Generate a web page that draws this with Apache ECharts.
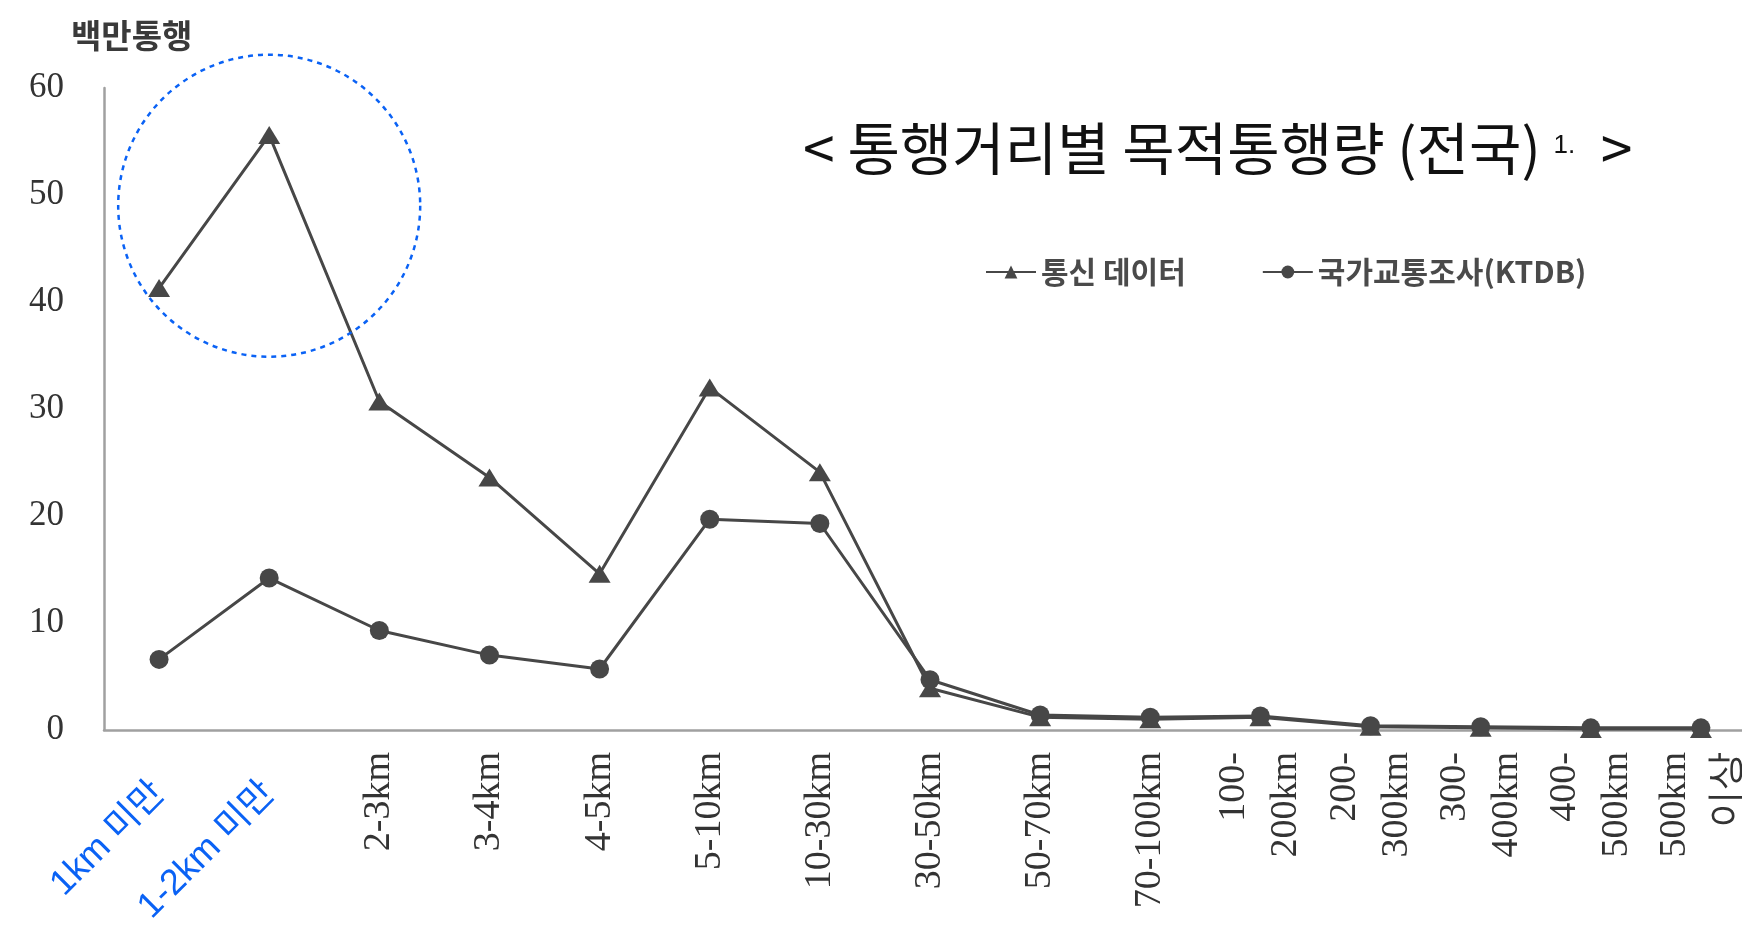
<!DOCTYPE html>
<html>
<head>
<meta charset="utf-8">
<script src="https://cdn.jsdelivr.net/npm/echarts@6/dist/echarts.min.js"></script>
<style>
html,body{margin:0;padding:0;background:#ffffff;overflow:hidden;}
#c{width:1762px;height:938px;}
</style>
</head>
<body>
<div id="c"></div>
<script>
// ---- data ----
const categories = ['1km 미만','1-2km 미만','2-3km','3-4km','4-5km','5-10km','10-30km','30-50km','50-70km','70-100km','100-\n200km','200-\n300km','300-\n400km','400-\n500km','500km\n이상'];
const telecomData = [41.3, 55.6, 30.7, 23.6, 14.6, 32.0, 24.1, 3.9, 1.2, 1.0, 1.2, 0.3, 0.2, 0.1, 0.1];
const ktdbData    = [6.6, 14.2, 9.3, 7.0, 5.7, 19.7, 19.3, 4.7, 1.4, 1.2, 1.3, 0.4, 0.3, 0.2, 0.2];
const yTicks = [0, 10, 20, 30, 40, 50, 60];
const seriesNames = ['통신 데이터', '국가교통조사(KTDB)'];
const titleText = '< 통행거리별 목적통행량 (전국)';
const titleSup = '1.';
const titleEnd = '>';
const yName = '백만통행';
const highlightCount = 2;          // first categories annotated in blue
const circleAnchor = [1, 49];      // annotation circle centre (category index, value)

// ---- chart ----
const chart = echarts.init(document.getElementById('c'), null, {renderer: 'canvas'});
const GRAY = '#474747';
const AXIS = '#a0a0a0';
const BLUE = '#0a62f5';

const option = {
  animation: false,
  backgroundColor: '#ffffff',
  title: [
    {
      text: '{m|' + titleText + ' }{s|' + titleSup + '}{m|  ' + titleEnd + '}',
      left: 798, top: 110,
      textStyle: {
        fontWeight: 'normal',
        rich: {
          m: {fontSize: 57, fontWeight: 'normal', fontFamily: 'Noto Sans CJK KR', color: '#111111', lineHeight: 66},
          s: {fontSize: 26, fontWeight: 'normal', fontFamily: 'Liberation Sans', color: '#111111', verticalAlign: 'top', lineHeight: 26, padding: [18, 0, 0, 0]}
        }
      }
    },
    {
      text: yName,
      left: 66, top: 14,
      textStyle: {fontSize: 33, fontWeight: 'bold', color: '#3a3a3a', fontFamily: 'Noto Sans CJK KR'}
    }
  ],
  legend: {
    data: seriesNames,
    left: 980, top: 252,
    itemWidth: 50, itemHeight: 16, itemGap: 76,
    textStyle: {fontFamily: 'Noto Sans CJK KR', fontSize: 30, fontWeight: 'bold', color: '#4a4a4a'}
  },
  grid: {left: 104, top: 88, bottom: 208, right: 6, containLabel: false},
  xAxis: [
    {
      type: 'category', data: categories, position: 'bottom', boundaryGap: true,
      axisLine: {show: true, lineStyle: {color: AXIS, width: 2.5}},
      axisTick: {show: false},
      splitLine: {show: false},
      axisLabel: {
        interval: 0, rotate: 90, margin: 22,
        fontFamily: 'Liberation Serif', fontSize: 38, color: '#333333', lineHeight: 52,
        formatter: (v, i) => (i < highlightCount ? '' : v)
      }
    },
    {
      type: 'category', data: categories, position: 'bottom', boundaryGap: true,
      axisLine: {show: false}, axisTick: {show: false}, splitLine: {show: false},
      axisLabel: {
        interval: 0, rotate: 45, margin: 58,
        fontFamily: 'Liberation Sans, Noto Sans CJK KR', fontSize: 36, color: BLUE,
        formatter: (v, i) => (i < highlightCount ? v : '')
      }
    }
  ],
  yAxis: {
    type: 'value', min: 0, max: 60, interval: 10,
    axisLine: {show: true, lineStyle: {color: AXIS, width: 2.5}},
    axisTick: {show: false},
    splitLine: {show: false},
    axisLabel: {
      margin: 40, fontFamily: 'Liberation Serif', fontSize: 35, color: '#333333',
      formatter: v => (yTicks.indexOf(v) >= 0 ? String(v) : '')
    }
  },
  series: [
    {
      name: seriesNames[0], type: 'line', data: telecomData,
      symbol: 'triangle', symbolSize: [22, 18],
      lineStyle: {color: GRAY, width: 3},
      itemStyle: {color: GRAY}, z: 2
    },
    {
      name: seriesNames[1], type: 'line', data: ktdbData,
      symbol: 'circle', symbolSize: 19,
      lineStyle: {color: GRAY, width: 3},
      itemStyle: {color: GRAY}, z: 3
    }
  ]
};
chart.setOption(option);

const c = chart.convertToPixel({xAxisIndex: 0, yAxisIndex: 0}, circleAnchor);
chart.setOption({
  graphic: [{
    type: 'circle',
    shape: {cx: c[0], cy: c[1], r: 151},
    style: {fill: 'none', stroke: BLUE, lineWidth: 2.5, lineDash: [5, 5]},
    z: 10
  }]
});
</script>
</body>
</html>
